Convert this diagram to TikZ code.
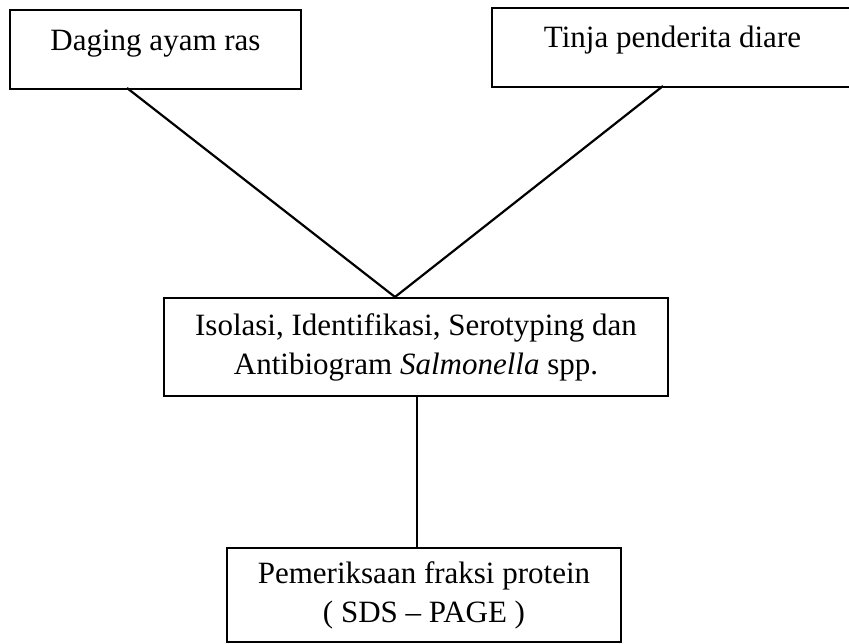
\documentclass[tikz,border=0pt]{standalone}
\usepackage{fontspec}
\setmainfont{Liberation Serif}
\begin{document}
\begin{tikzpicture}[x=1pt,y=1pt,
  box/.style={draw,line width=2pt,inner sep=0pt,anchor=north west,
    font=\fontsize{31}{39}\selectfont},
  topbox/.style={box,text height=41pt,text depth=38pt},
  link/.style={line width=2.2pt}]
\useasboundingbox (0,0) rectangle (849,643);
\node[topbox,minimum width=291pt] (daging) at (9,634) {Daging ayam ras};
\node[topbox,minimum width=361pt,text height=40pt,text depth=39pt] (tinja) at (491,636) {Tinja penderita diare};
\node[box,minimum width=504pt,minimum height=98pt,align=center] (isolasi) at (163,346) {Isolasi, Identifikasi, Serotyping dan\\Antibiogram \textit{Salmonella} spp.};
\node[box,minimum width=394pt,minimum height=94pt,align=center] (periksa) at (226,96) {Pemeriksaan fraksi protein\\( SDS – PAGE )};

%lines between the boxes
\coordinate (d0) at (127,555);
\coordinate (t0) at (663,557);
\coordinate (v) at (395,346);
\coordinate (m0) at (417,248);
\draw[link] (d0) to (v);
\draw[link] (t0) to (v);
\draw[link] (m0) to (m0 |- periksa.north);
\end{tikzpicture}
\end{document}
